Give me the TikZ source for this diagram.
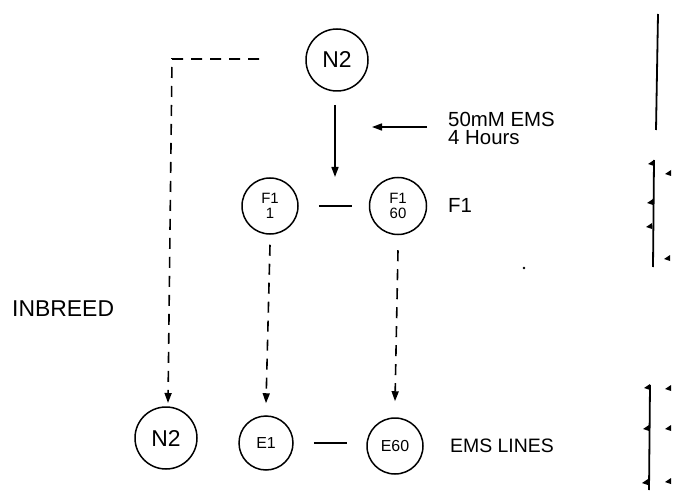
\documentclass[tikz,border=0pt]{standalone}
\usepackage{fontspec}
\setmainfont{Liberation Sans}
\usetikzlibrary{arrows.meta}
\begin{document}
\begin{tikzpicture}[x=1bp,y=-1bp,
  circ/.style={draw,circle,line width=1.5bp,inner sep=0pt},
  dashln/.style={dash pattern=on 11bp off 8bp,line width=1.6bp},
  arr/.style={-{Triangle[length=10bp,width=7bp]}},
  solidl/.style={line width=1.6bp},
  lbl/.style={font=\fontsize{20.5}{19}\selectfont,align=left,inner sep=0pt}]
\useasboundingbox (0,0) rectangle (673,493);
% nodes
\node[circ,minimum size=62bp,font=\fontsize{23}{23}\selectfont] (n2a) at (337,60) {N2};
\node[circ,minimum size=56bp,font=\fontsize{15}{15}\selectfont,align=center] (f11) at (270,206) {F1\\1};
\node[circ,minimum size=57bp,font=\fontsize{15}{15}\selectfont,align=center] (f160) at (398,206) {F1\\60};
\node[circ,minimum size=62bp,font=\fontsize{23}{23}\selectfont] (n2b) at (166,438) {N2};
\node[circ,minimum size=54bp,font=\fontsize{16}{16}\selectfont] (e1) at (266,443) {E1};
\node[circ,minimum size=56bp,font=\fontsize{16}{16}\selectfont] (e60) at (395,446) {E60};
% labels
\node[lbl,anchor=base west] (ems) at (448,145) {50mM EMS\\4 Hours};
\node[lbl,anchor=west] (f1l) at (448,205) {F1};
\node[lbl,anchor=west,font=\fontsize{23}{23}\selectfont] (inb) at (12,309) {INBREED};
\node[lbl,anchor=west,font=\fontsize{19.5}{19}\selectfont] (emsl) at (450,446) {EMS LINES};
% coordinates
\coordinate (d0) at (259,59);
\coordinate (d1) at (172,59);
\coordinate (d2) at (168,403);
\coordinate (s0) at (335,105);
\coordinate (s1) at (335,177);
\coordinate (a0) at (427,127);
\coordinate (a1) at (372,127);
\coordinate (ew) at (e60.west |- e1.east);
% connectors
\draw[dashln,arr] (d0) -- (d1) -- (d2);
\draw[solidl,arr] (s0) -- (s1);
\draw[solidl,arr] (a0) -- (a1);
\draw[solidl] ([xshift=20bp]f11.east) -- ([xshift=-17bp]f160.west);
\draw[solidl] ([xshift=20bp]e1.east) -- ([xshift=-19bp]ew);
\draw[dashln,arr] ([yshift=-10bp]f11.south) -- ([yshift=12bp]e1.north);
\draw[dashln,arr] ([yshift=-15bp]f160.south) -- ([yshift=16bp]e60.north);
% scan marks at right edge
\fill (524,268) circle (1.3bp);
\draw[line width=1.8bp] (658,14) -- (656,130);
\draw[line width=1.8bp] (654,160) -- (653,267);
\draw[line width=1.8bp] (650,385) -- (649,490);
\foreach \x/\y in {654/163,653/202,652/226,650/387,649/428,648/482,671/173,670/258,671/388,671/428,671/481}
  \fill (\x,\y-3) -- (\x,\y+3) -- (\x-6,\y+1) -- cycle;
\end{tikzpicture}
\end{document}
